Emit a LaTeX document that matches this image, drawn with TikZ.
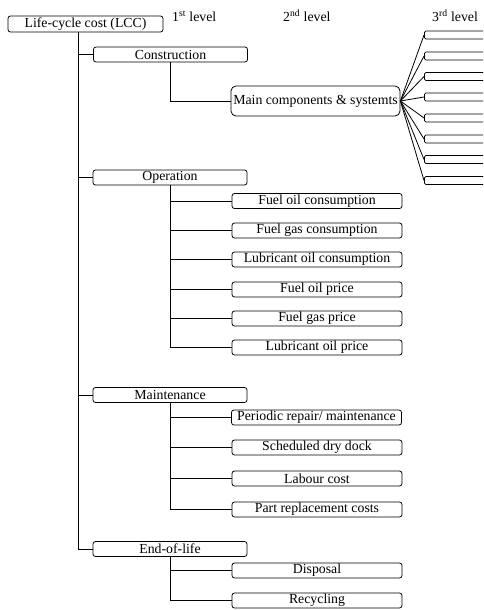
\documentclass[tikz,border=0pt]{standalone}
\usepackage{fontspec}
\setmainfont{Liberation Serif}
\begin{document}
\begin{tikzpicture}[x=1pt,y=-1pt,
  box/.style={draw, rounded corners=2.5pt, line width=0.8pt, inner sep=0pt,
    font=\fontsize{13.8}{16}\selectfont, minimum height=15pt},
  lone/.style={box, minimum width=154pt},
  ltwo/.style={box, minimum width=170pt},
  lthree/.style={draw, rounded corners=1.5pt, line width=0.8pt, inner sep=0pt,
    minimum height=8pt, minimum width=80pt, anchor=west},
  link/.style={line width=0.8pt},
  lvl/.style={anchor=base west, inner sep=0pt, font=\fontsize{13.8}{16}\selectfont}]
\useasboundingbox (0,0) rectangle (483,610);
\clip (0,0) rectangle (483,610);

% level labels
\node[lvl] (lv1) at (172,22) {1\textsuperscript{st} level};
\node[lvl] (lv2) at (283,22) {2\textsuperscript{nd} level};
\node[lvl] (lv3) at (432,22) {3\textsuperscript{rd} level};

% root and first level
\node[box, minimum width=155pt, minimum height=16pt] (root) at (85.5,24) {Life-cycle cost (LCC)};
\node[lone] (cons) at (170.5,54.5) {Construction};
\node[lone] (op) at (170,177.5) {Operation};
\node[lone] (mt) at (170,395) {Maintenance};
\node[lone] (eol) at (170,549) {End-of-life};

% construction
\node[box, rounded corners=5pt, minimum width=169pt, minimum height=30pt] (main) at (315.5,101) {Main components \& systemts};

% operation
\node[ltwo] (o1) at (317,201) {Fuel oil consumption};
\node[ltwo] (o2) at (317,230.5) {Fuel gas consumption};
\node[ltwo] (o3) at (317,259.5) {Lubricant oil consumption};
\node[ltwo] (o4) at (317,289.5) {Fuel oil price};
\node[ltwo] (o5) at (317,318.5) {Fuel gas price};
\node[ltwo] (o6) at (317,347.5) {Lubricant oil price};

% maintenance
\node[ltwo] (m1) at (316.5,417.5) {Periodic repair/ maintenance};
\node[ltwo] (m2) at (317,447.5) {Scheduled dry dock};
\node[ltwo] (m3) at (317,478.5) {Labour cost};
\node[ltwo] (m4) at (317,509.5) {Part replacement costs};

% end of life
\node[ltwo] (e1) at (317,570.5) {Disposal};
\node[ltwo] (e2) at (317,600.5) {Recycling};

% trunk
\coordinate (t0) at (78,32);
\draw[link] (t0) |- (cons.west);
\draw[link] (t0) |- (op.west);
\draw[link] (t0) |- (mt.west);
\draw[link] (t0) |- (eol.west);

% branches
\draw[link] (cons.south) |- (main.west);
\foreach \n in {o1,o2,o3,o4,o5,o6} {\draw[link] (op.south) |- (\n.west);}
\foreach \n in {m1,m2,m3,m4} {\draw[link] (mt.south) |- (\n.west);}
\foreach \n in {e1,e2} {\draw[link] (eol.south) |- (\n.west);}

% third level
\foreach \i/\yy in {1/35,2/56,3/76.5,4/97,5/118,6/139,7/159.5,8/180.5} {
  \node[lthree] (c\i) at (424,\yy) {};
  \draw[link] (main.east) -- (c\i.west);
}
\end{tikzpicture}
\end{document}
